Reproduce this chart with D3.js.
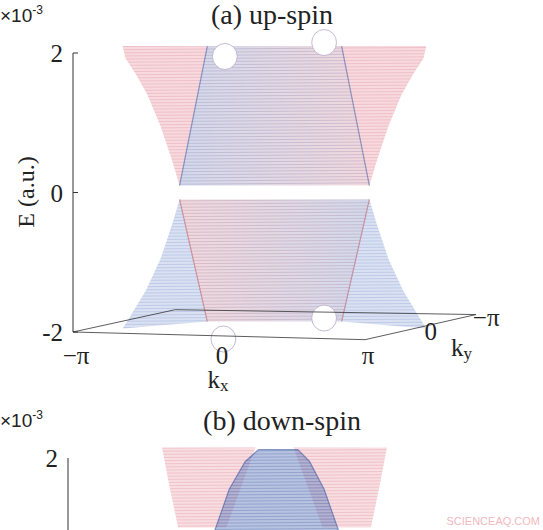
<!DOCTYPE html>
<html><head><meta charset="utf-8">
<script src="https://cdn.jsdelivr.net/npm/d3@7"></script>
<style>body{margin:0;background:#fff}text{font-family:"Liberation Serif",serif;fill:#222}</style>
</head><body><svg id="c" width="543" height="530"></svg>
<script>
// projected coordinate u (kx/pi along front edge, extended for depth), E in 1e-3
var eTicks = [2, 0, -2];
var kxTicks = [{u: -1, t: "\u2212\u03c0"}, {u: 0, t: "0"}, {u: 1, t: "\u03c0"}];
var kyTicks = [{u: 1.45, e: -2.0, t: "0"}, {u: 1.83, e: -1.8, t: "\u2212\u03c0"}];
var baseFrame = [[-1, -2], [1, -2.11], [1.76, -1.75], [-0.3, -1.68], [-1, -2]];
// band outlines (panel a)
var upWingL = [[-0.66, 2.1], [-0.08, 2.1], [-0.27, 0.1], [-0.32, 0.45], [-0.4, 0.95], [-0.49, 1.4], [-0.57, 1.7], [-0.64, 1.92]];
var upCenter = [[-0.08, 2.1], [0.84, 2.1], [1.03, 0.1], [-0.27, 0.1]];
var loWingL = [[-0.27, -0.1], [-0.08, -1.85], [-0.66, -1.95], [-0.6, -1.75], [-0.5, -1.4], [-0.4, -0.95], [-0.32, -0.45]];
var loCenter = [[-0.27, -0.1], [1.03, -0.1], [0.84, -1.85], [-0.08, -1.85]];
var holes = [{u: 0.04, e: 1.95, r: 0.085}, {u: 0.72, e: 2.15, r: 0.085}, {u: 0.72, e: -1.8, r: 0.085}, {u: 0.03, e: -2.1, r: 0.085}];
// panel b outlines
var bWingL = [[-0.39, 2.15], [0.25, 2.15], [0.05, 1.0], [-0.28, 1.0], [-0.34, 1.6]];
var bCenter = [[0.27, 2.12], [0.54, 2.12], [0.62, 1.95], [0.72, 1.55], [0.82, 0.95], [-0.03, 0.95], [0.07, 1.55], [0.18, 1.95]];

var svg = d3.select("#c");
var x = d3.scaleLinear().domain([-1, 1]).range([73, 365]);
var ya = d3.scaleLinear().domain([-2, 2]).range([332, 53]);
var yb = d3.scaleLinear().domain([0, 2]).range([597, 458]);
var mir = function(p) { return [0.76 - p[0], p[1]]; };
var defs = svg.append("defs");
function grad(id, a, b) {
  var g = defs.append("linearGradient").attr("id", id);
  g.append("stop").attr("offset", "0%").attr("stop-color", a);
  g.append("stop").attr("offset", "100%").attr("stop-color", b);
}
grad("gc", "#6a82c0", "#d27f8e");
grad("gr", "#d27f8e", "#6a82c0");
function line(y) { return d3.line().curve(d3.curveLinearClosed).x(function(d) { return x(d[0]); }).y(function(d) { return y(d[1]); }); }
function poly(pts, y, fill, op) {
  return svg.append("path").attr("d", line(y)(pts)).attr("fill", fill).attr("fill-opacity", op);
}
function stripes(pts, y, color, id) {
  defs.append("clipPath").attr("id", id).append("path").attr("d", line(y)(pts));
  var ext = d3.extent(pts, function(d) { return d[1]; });
  var g = svg.append("g").attr("clip-path", "url(#" + id + ")");
  for (var e = ext[0]; e <= ext[1] + 0.1; e += 0.045) {
    g.append("line").attr("x1", 0).attr("x2", 543).attr("y1", y(e)).attr("y2", y(e) - 4)
      .attr("stroke", color).attr("stroke-width", 0.6).attr("stroke-opacity", 0.5);
  }
}
function edge(pts, y, color) {
  svg.append("path").attr("d", d3.line().x(function(d) { return x(d[0]); }).y(function(d) { return y(d[1]); })(pts))
    .attr("fill", "none").attr("stroke", color).attr("stroke-width", 1.2).attr("stroke-opacity", 0.6);
}

// panel a
var red = "#f0b4bd", blue = "#b4c4e6";
[[upWingL, red, "#d98592"], [upWingL.map(mir), red, "#d98592"], [loWingL, blue, "#7f98cf"], [loWingL.map(mir), blue, "#7f98cf"]]
  .forEach(function(s, i) { poly(s[0], ya, s[1], 0.5); stripes(s[0], ya, s[2], "sa" + i); });
poly(upCenter, ya, "url(#gc)", 0.3); stripes(upCenter, ya, "#8a7aa8", "sc1");
poly(loCenter, ya, "url(#gr)", 0.3); stripes(loCenter, ya, "#a07a98", "sc2");
edge([upCenter[0], upCenter[3]], ya, "#4a64a8"); edge([upCenter[1], upCenter[2]], ya, "#4a64a8");
edge([loCenter[0], loCenter[3]], ya, "#c06070"); edge([loCenter[1], loCenter[2]], ya, "#c06070");
holes.forEach(function(h) {
  svg.append("ellipse").attr("cx", x(h.u)).attr("cy", ya(h.e)).attr("rx", x(h.r) - x(0)).attr("ry", 13)
    .attr("fill", "#fff").attr("stroke", "#b8a8c8").attr("stroke-width", 0.8);
});
svg.append("path").attr("d", d3.line().x(function(d) { return x(d[0]); }).y(function(d) { return ya(d[1]); })(baseFrame))
  .attr("fill", "none").attr("stroke", "#333").attr("stroke-width", 0.8);
svg.append("line").attr("x1", x(-1)).attr("x2", x(-1)).attr("y1", ya(2)).attr("y2", ya(-2)).attr("stroke", "#333");
eTicks.forEach(function(t) {
  svg.append("line").attr("x1", x(-1)).attr("x2", x(-1) + 5).attr("y1", ya(t)).attr("y2", ya(t)).attr("stroke", "#333");
  svg.append("text").attr("x", x(-1) - 10).attr("y", ya(t) + 9).attr("text-anchor", "end").attr("font-size", 25).text(t);
});
kxTicks.forEach(function(t) {
  svg.append("text").attr("x", x(t.u) + 3).attr("y", 364).attr("text-anchor", "middle").attr("font-size", 25).text(t.t);
});
kyTicks.forEach(function(t) {
  svg.append("text").attr("x", x(t.u)).attr("y", ya(t.e) + 8).attr("text-anchor", "middle").attr("font-size", 25).text(t.t);
});
svg.append("text").attr("x", 218).attr("y", 388).attr("text-anchor", "middle").attr("font-size", 25).html('k<tspan font-size="17" dy="3">x</tspan>');
svg.append("text").attr("x", 451).attr("y", 356).attr("font-size", 25).html('k<tspan font-size="17" dy="3">y</tspan>');
svg.append("text").attr("transform", "translate(34,192) rotate(-90)").attr("text-anchor", "middle").attr("font-size", 24).text("E (a.u.)");
svg.append("text").attr("x", 272).attr("y", 24).attr("text-anchor", "middle").attr("font-size", 28).text("(a) up-spin");
svg.append("text").attr("x", 0).attr("y", 22).attr("font-size", 19).style("font-family", "Liberation Sans").html('\u00d710<tspan font-size="12" dy="-8">-3</tspan>');

// panel b
[[bWingL, red, "#d98592"], [bWingL.map(mir), red, "#d98592"]]
  .forEach(function(s, i) { poly(s[0], yb, s[1], 0.45); stripes(s[0], yb, s[2], "sb" + i); });
poly(bCenter, yb, "#7088c4", 0.5); stripes(bCenter, yb, "#3f5aa0", "sbc");
edge(bCenter.concat([bCenter[0]]), yb, "#3f5aa0");
svg.append("line").attr("x1", 68).attr("x2", 68).attr("y1", yb(2)).attr("y2", 530).attr("stroke", "#333");
svg.append("text").attr("x", 58).attr("y", yb(2) + 9).attr("text-anchor", "end").attr("font-size", 25).text(2);
svg.append("text").attr("x", 282).attr("y", 430).attr("text-anchor", "middle").attr("font-size", 28).text("(b) down-spin");
svg.append("text").attr("x", 0).attr("y", 427).attr("font-size", 19).style("font-family", "Liberation Sans").html('\u00d710<tspan font-size="12" dy="-8">-3</tspan>');
svg.append("text").attr("x", 540).attr("y", 525).attr("text-anchor", "end").attr("font-size", 11).style("font-family", "Liberation Sans").style("fill", "#f2b8c0").text("SCIENCEAQ.COM");
</script></body></html>
